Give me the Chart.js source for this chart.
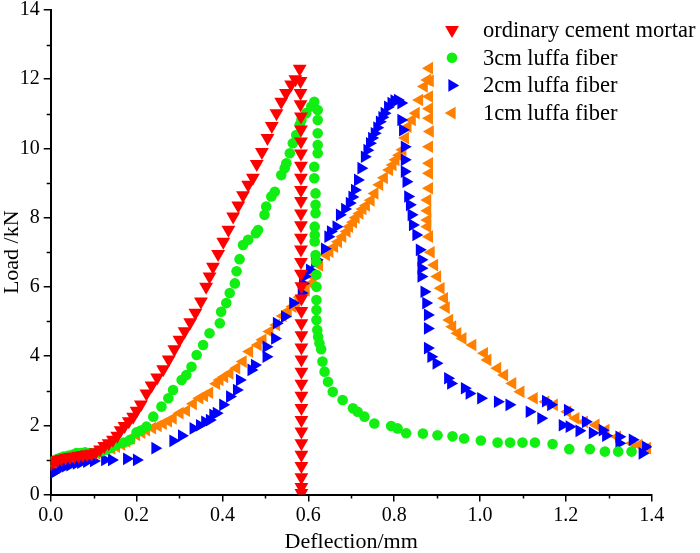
<!DOCTYPE html>
<html>
<head>
<meta charset="utf-8">
<script src="https://cdn.jsdelivr.net/npm/chart.js@4.4.0/dist/chart.umd.min.js"></script>
<style>
  html, body { margin: 0; padding: 0; background: #fff; }
  #wrap { width: 700px; height: 553px; position: relative; }
</style>
</head>
<body>
<div id="wrap"><canvas id="loadChart"></canvas></div>
<script>
// load (kN) vs deflection (mm)
const seriesNames = ["ordinary cement mortar", "3cm luffa fiber", "2cm luffa fiber", "1cm luffa fiber"];

const mortar = [
  [0.000,0.88],[0.008,0.95],[0.016,1.00],[0.025,1.03],[0.035,1.06],[0.045,1.08],[0.055,1.10],[0.065,1.12],
  [0.075,1.14],[0.085,1.16],[0.095,1.18],[0.105,1.22],[0.115,1.30],[0.125,1.40],[0.135,1.48],[0.145,1.58],
  [0.155,1.70],[0.163,1.86],[0.172,1.98],[0.182,2.12],[0.192,2.25],[0.200,2.42],[0.210,2.60],[0.223,2.92],
  [0.235,3.15],[0.248,3.38],[0.262,3.62],[0.275,3.90],[0.288,4.20],[0.300,4.47],[0.312,4.72],[0.325,4.98],
  [0.337,5.25],[0.350,5.58],[0.362,6.00],[0.370,6.30],[0.378,6.58],[0.390,6.95],[0.402,7.30],[0.414,7.65],
  [0.425,8.03],[0.437,8.35],[0.448,8.65],[0.460,8.95],[0.471,9.15],[0.480,9.55],[0.492,9.90],[0.505,10.30],
  [0.515,10.65],[0.526,11.02],[0.537,11.35],[0.548,11.60],[0.560,11.85],[0.570,12.00],[0.580,12.30],
  [0.582,11.95],[0.582,11.60],[0.582,11.28],[0.583,10.92],[0.583,10.55],[0.583,10.20],[0.583,9.85],[0.583,9.50],
  [0.583,9.15],[0.583,8.80],[0.583,8.48],[0.583,8.12],[0.583,7.78],[0.583,7.42],[0.583,7.08],[0.583,6.72],
  [0.583,6.38],[0.584,6.02],[0.584,5.66],[0.584,5.30],[0.584,4.95],[0.584,4.60],[0.584,4.25],[0.584,3.90],
  [0.584,3.55],[0.584,3.20],[0.584,2.85],[0.584,2.50],[0.584,2.15],[0.584,1.82],[0.584,1.48],[0.584,1.15],
  [0.584,0.82],[0.584,0.50],[0.584,0.22],[0.584,0.04]
];

const fiber3cm = [
  [0.000,0.95],[0.010,1.00],[0.020,1.05],[0.030,1.10],[0.040,1.12],[0.050,1.15],[0.060,1.20],[0.070,1.20],
  [0.080,1.22],[0.090,1.20],[0.100,1.20],[0.110,1.22],[0.120,1.25],[0.130,1.30],[0.140,1.35],[0.155,1.45],
  [0.170,1.50],[0.185,1.58],[0.200,1.80],[0.210,1.85],[0.223,1.96],[0.239,2.25],[0.258,2.54],[0.274,2.78],
  [0.285,3.02],[0.305,3.31],[0.316,3.45],[0.328,3.69],[0.340,4.03],[0.355,4.32],[0.370,4.66],[0.394,4.95],
  [0.397,5.28],[0.409,5.53],[0.417,5.82],[0.429,6.10],[0.433,6.45],[0.440,6.80],[0.448,7.21],[0.460,7.36],
  [0.478,7.55],[0.483,7.64],[0.498,8.08],[0.502,8.32],[0.514,8.61],[0.522,8.75],[0.537,9.23],[0.545,9.43],
  [0.549,9.57],[0.557,9.86],[0.564,10.15],[0.572,10.39],[0.580,10.68],[0.584,10.82],[0.595,11.02],[0.607,11.21],
  [0.614,11.35],[0.622,11.11],[0.622,10.82],[0.622,10.44],[0.622,10.10],[0.622,9.86],[0.614,9.47],[0.614,9.14],
  [0.617,8.70],[0.617,8.37],[0.617,8.13],[0.615,7.74],[0.615,7.50],[0.615,7.31],[0.617,6.92],[0.618,6.73],
  [0.619,6.35],[0.619,6.00],[0.619,5.62],[0.619,5.33],[0.619,5.04],[0.621,4.75],[0.623,4.56],[0.626,4.37],
  [0.630,4.20],[0.633,3.84],[0.638,3.55],[0.646,3.26],[0.657,2.97],[0.680,2.73],[0.704,2.49],[0.715,2.39],
  [0.731,2.25],[0.754,2.05],[0.793,1.98],[0.808,1.91],[0.828,1.77],[0.867,1.76],[0.901,1.71],[0.936,1.68],
  [0.963,1.62],[1.002,1.56],[1.041,1.50],[1.070,1.50],[1.099,1.50],[1.128,1.50],[1.169,1.46],[1.208,1.31],
  [1.256,1.31],[1.291,1.24],[1.322,1.24],[1.353,1.24]
];

const fiber2cm = [
  [0.005,0.62],[0.010,0.66],[0.022,0.77],[0.035,0.82],[0.045,0.85],[0.060,0.90],[0.070,0.92],[0.084,0.95],
  [0.100,0.97],[0.126,1.00],[0.142,1.00],[0.177,1.03],[0.200,1.00],[0.243,1.34],[0.285,1.55],[0.305,1.70],
  [0.332,1.91],[0.347,2.00],[0.359,2.10],[0.370,2.15],[0.378,2.30],[0.386,2.35],[0.401,2.59],[0.417,2.83],
  [0.433,3.02],[0.440,3.31],[0.467,3.60],[0.475,3.74],[0.502,3.98],[0.502,4.27],[0.522,4.51],[0.526,4.95],
  [0.545,5.14],[0.564,5.53],[0.584,5.82],[0.587,6.10],[0.591,6.30],[0.603,6.49],[0.615,6.70],[0.619,6.78],
  [0.638,7.10],[0.646,7.45],[0.652,7.60],[0.665,7.74],[0.673,8.08],[0.685,8.25],[0.696,8.42],[0.702,8.60],
  [0.708,8.80],[0.715,9.09],[0.723,9.43],[0.731,9.76],[0.737,9.95],[0.743,10.15],[0.748,10.30],[0.754,10.44],
  [0.760,10.60],[0.766,10.77],[0.772,10.90],[0.777,11.02],[0.785,11.20],[0.793,11.31],[0.800,11.38],[0.808,11.40],
  [0.816,11.31],[0.816,10.82],[0.820,10.53],[0.824,10.05],[0.824,9.67],[0.824,9.33],[0.828,9.04],[0.832,8.61],
  [0.836,8.37],[0.840,8.08],[0.843,7.79],[0.851,7.50],[0.859,7.07],[0.863,6.78],[0.863,6.54],[0.863,6.30],
  [0.870,5.86],[0.874,5.53],[0.878,5.19],[0.878,4.80],[0.878,4.23],[0.886,3.98],[0.898,3.79],[0.925,3.36],
  [0.932,3.21],[0.964,3.07],[0.975,2.92],[1.002,2.78],[1.041,2.68],[1.068,2.59],[1.115,2.39],[1.142,2.20],
  [1.153,2.70],[1.165,2.59],[1.192,2.00],[1.204,2.44],[1.208,1.96],[1.231,1.84],[1.246,2.10],[1.262,1.78],
  [1.285,1.86],[1.293,1.70],[1.324,1.48],[1.324,1.67],[1.355,1.58],[1.378,1.19],[1.386,1.38]
];

const fiber1cm = [
  [0.005,0.78],[0.012,0.82],[0.022,0.87],[0.035,0.93],[0.045,1.00],[0.060,1.04],[0.072,1.08],[0.084,1.12],
  [0.096,1.16],[0.107,1.19],[0.118,1.24],[0.130,1.29],[0.142,1.33],[0.153,1.38],[0.165,1.45],[0.177,1.53],
  [0.188,1.62],[0.200,1.72],[0.212,1.79],[0.223,1.86],[0.237,1.92],[0.250,1.98],[0.262,2.05],[0.274,2.12],
  [0.285,2.20],[0.301,2.35],[0.316,2.42],[0.332,2.62],[0.347,2.78],[0.358,2.85],[0.370,2.94],[0.386,3.20],
  [0.394,3.31],[0.405,3.40],[0.417,3.50],[0.433,3.65],[0.448,3.84],[0.463,4.13],[0.483,4.32],[0.494,4.47],
  [0.510,4.71],[0.526,4.90],[0.541,5.16],[0.553,5.30],[0.564,5.43],[0.572,5.55],[0.580,5.70],[0.595,5.90],
  [0.607,6.10],[0.611,6.30],[0.626,6.62],[0.642,6.92],[0.650,7.02],[0.661,7.16],[0.670,7.30],[0.680,7.45],
  [0.690,7.60],[0.696,7.74],[0.705,7.87],[0.711,8.00],[0.720,8.12],[0.727,8.25],[0.735,8.35],[0.746,8.50],
  [0.755,8.70],[0.766,8.95],[0.777,9.15],[0.789,9.38],[0.797,9.52],[0.804,9.67],[0.812,9.80],[0.820,9.96],
  [0.826,10.30],[0.832,10.63],[0.842,10.82],[0.851,11.02],[0.859,11.40],[0.870,11.79],[0.878,11.98],[0.882,12.32],
  [0.884,11.95],[0.882,11.50],[0.882,11.15],[0.882,10.87],[0.884,10.49],[0.882,10.05],[0.882,9.57],[0.882,9.28],
  [0.882,8.85],[0.878,8.51],[0.878,8.20],[0.878,7.93],[0.878,7.74],[0.882,7.45],[0.886,7.00],[0.894,6.63],
  [0.901,6.30],[0.909,5.96],[0.917,5.67],[0.921,5.40],[0.929,5.04],[0.936,4.85],[0.948,4.66],[0.960,4.51],
  [0.983,4.32],[1.010,4.08],[1.018,3.89],[1.041,3.65],[1.057,3.45],[1.076,3.21],[1.095,2.97],[1.126,2.78],
  [1.153,2.68],[1.173,2.59],[1.204,2.39],[1.223,2.20],[1.243,2.10],[1.270,2.01],[1.293,1.86],[1.320,1.67],
  [1.355,1.48],[1.370,1.43],[1.390,1.34]
];

const xMin = 0, xMax = 1.4, xStep = 0.2;
const yMin = 0, yMax = 14, yStep = 2;

const serif = "'Liberation Serif', 'Times New Roman', serif";
const toPoints = arr => arr.map(p => ({ x: p[0], y: p[1] }));

const styles = [
  { color: "#ff0000", pointStyle: "triangle", rotation: 180, radius: 8 },
  { color: "#11ee11", pointStyle: "circle", rotation: 0, radius: 5.3 },
  { color: "#0000ff", pointStyle: "triangle", rotation: 90, radius: 7.3 },
  { color: "#ff8000", pointStyle: "triangle", rotation: -90, radius: 7.3 }
];

const allData = [mortar, fiber3cm, fiber2cm, fiber1cm];

const datasets = allData.map((d, i) => ({
  label: seriesNames[i],
  data: toPoints(d),
  pointStyle: styles[i].pointStyle,
  rotation: styles[i].rotation,
  pointRadius: styles[i].radius,
  pointHoverRadius: styles[i].radius,
  backgroundColor: styles[i].color,
  borderColor: styles[i].color,
  borderWidth: 0,
  showLine: false
}));

// minor ticks halfway between labelled ones
const minorTicks = {
  id: "minorTicks",
  afterDraw(chart) {
    const { ctx, scales: { x, y } } = chart;
    ctx.save();
    ctx.strokeStyle = "#000";
    ctx.lineWidth = 1.5;
    ctx.beginPath();
    for (let v = xMin + xStep / 2; v < xMax; v += xStep) {
      const px = Math.round(x.getPixelForValue(v)) + 0.5;
      ctx.moveTo(px, y.bottom);
      ctx.lineTo(px, y.bottom + 4);
    }
    for (let v = yMin + yStep / 2; v < yMax; v += yStep) {
      const py = Math.round(y.getPixelForValue(v)) + 0.5;
      ctx.moveTo(x.left, py);
      ctx.lineTo(x.left - 4, py);
    }
    ctx.stroke();
    ctx.restore();
  }
};

// legend drawn at the top right, like the original figure
const cornerLegend = {
  id: "cornerLegend",
  afterDraw(chart) {
    const ctx = chart.ctx;
    ctx.save();
    ctx.font = "22.5px " + serif;
    ctx.textBaseline = "middle";
    seriesNames.forEach((name, i) => {
      const yy = 30 + i * 27.7;
      const st = styles[i];
      ctx.fillStyle = st.color;
      ctx.strokeStyle = st.color;
      Chart.helpers.drawPoint(ctx, {
        pointStyle: st.pointStyle, rotation: st.rotation,
        radius: st.radius, borderWidth: 0
      }, 452, yy);
      ctx.fillStyle = "#000";
      ctx.fillText(name, 483, yy + 1);
    });
    ctx.restore();
  }
};

new Chart(document.getElementById("loadChart"), {
  type: "scatter",
  data: { datasets },
  options: {
    responsive: true,
    maintainAspectRatio: false,
    animation: false,
    layout: { padding: { top: 10, right: 48.3, bottom: 0, left: 0 } },
    plugins: { legend: { display: false }, tooltip: { enabled: false } },
    scales: {
      x: {
        type: "linear",
        min: xMin, max: xMax,
        afterFit: s => { s.height = 58.5; s.paddingLeft = 0; s.paddingRight = 0; },
        ticks: {
          stepSize: xStep, color: "#000", padding: 2,
          font: { family: serif, size: 20 },
          callback: v => v.toFixed(1)
        },
        grid: { drawOnChartArea: false, drawTicks: true, tickLength: 7, color: "#000", lineWidth: 1.5 },
        border: { color: "#000", width: 2 },
        title: {
          display: true, text: "Deflection/mm", color: "#000",
          font: { family: serif, size: 22, lineHeight: 1 },
          padding: { top: 0, bottom: 0 }
        }
      },
      y: {
        type: "linear",
        min: yMin, max: yMax,
        afterFit: s => { s.width = 50.7; s.paddingTop = 0; s.paddingBottom = 0; },
        ticks: {
          stepSize: yStep, color: "#000", padding: 4,
          font: { family: serif, size: 20 }
        },
        grid: { drawOnChartArea: false, drawTicks: true, tickLength: 7, color: "#000", lineWidth: 1.5 },
        border: { color: "#000", width: 2 },
        title: {
          display: true, text: "Load /kN", color: "#000",
          font: { family: serif, size: 22, lineHeight: 1 },
          padding: { top: 1, bottom: 0 }
        }
      }
    }
  },
  plugins: [minorTicks, cornerLegend]
});
</script>
</body>
</html>
